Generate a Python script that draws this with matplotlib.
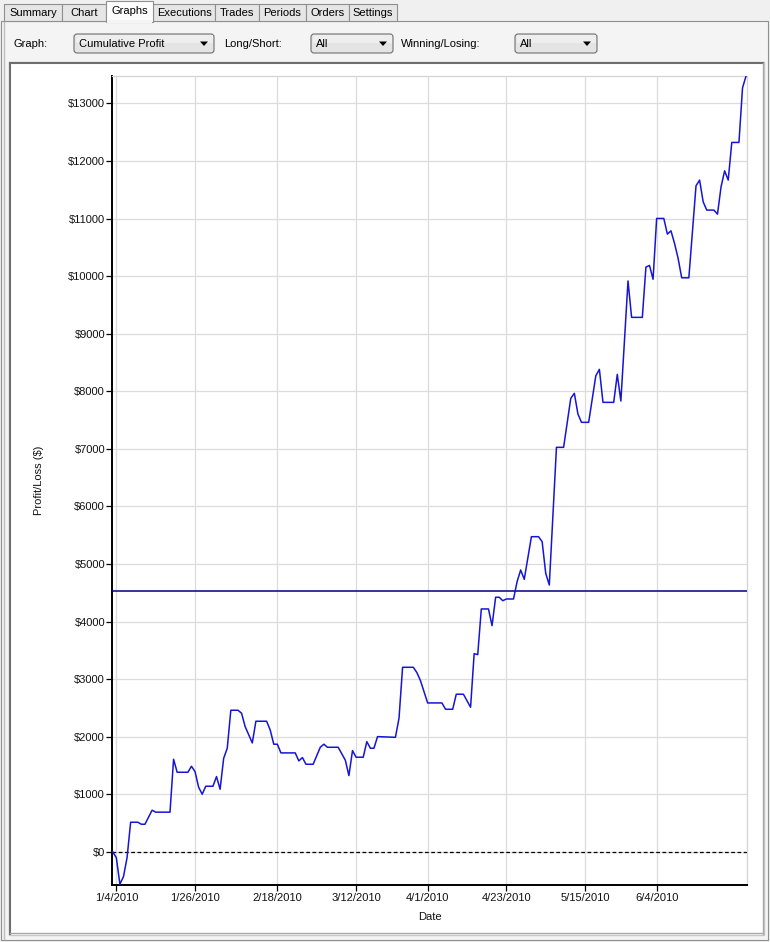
import matplotlib
matplotlib.use("Agg")
import matplotlib.pyplot as plt
from matplotlib.patches import Rectangle, FancyBboxPatch, Polygon
import pandas as pd

# ---------------- data ----------------
start_date = "2010-01-04"
day_offsets = [-1, 0, 1, 2, 3, 4, 6, 7, 8, 10, 11, 15, 16, 17, 20, 21, 22, 23, 24, 25,
               27, 28, 29, 30, 31, 32, 34, 35, 36, 38, 39, 42, 43, 44, 45, 46, 50, 51, 52, 53,
               55, 57, 58, 59, 62, 64, 65, 66, 67, 69, 70, 71, 72, 73, 78, 79, 80, 83, 84, 85,
               87, 91, 92, 94, 95, 97, 99, 100, 101, 102, 104, 105, 106, 107, 108, 109, 111, 112, 113, 114,
               116, 118, 119, 120, 121, 123, 125, 127, 128, 129, 130, 132, 134, 135, 136, 139, 140, 141, 143, 144,
               147, 148, 149, 150, 151, 153, 154, 155, 156, 157, 158, 160, 162, 163, 164, 165, 167, 168, 169, 170,
               171, 172, 174, 175, 176]
cum_profit = [0, -100, -560, -430, -100, 515, 515, 480, 480, 724, 690, 690, 1609, 1383, 1383, 1487, 1394, 1123, 1002, 1140,
              1140, 1308, 1088, 1626, 1800, 2460, 2460, 2408, 2176, 1892, 2269, 2269, 2118, 1870, 1870, 1719, 1719, 1580, 1638, 1522,
              1522, 1817, 1870, 1817, 1817, 1592, 1325, 1759, 1644, 1644, 1915, 1800, 1800, 2002, 1990, 2321, 3206, 3206, 3113, 2974,
              2587, 2587, 2477, 2477, 2738, 2738, 2512, 3443, 3426, 4219, 4219, 3929, 4422, 4422, 4363, 4392, 4392, 4693, 4896, 4734,
              5474, 5474, 5387, 4838, 4635, 7026, 7026, 7877, 7964, 7604, 7460, 7460, 8269, 8380, 7807, 7807, 8293, 7830, 9915, 9283,
              9283, 10156, 10185, 9945, 11001, 11001, 10729, 10786, 10567, 10307, 9970, 9970, 11568, 11667, 11290, 11146, 11146, 11076, 11550, 11828,
              11667, 12321, 12321, 13269, 13478]
average_profit = 4531
x_tick_labels = ["1/4/2010", "1/26/2010", "2/18/2010", "3/12/2010",
                 "4/1/2010", "4/23/2010", "5/15/2010", "6/4/2010"]
y_tick_values = list(range(0, 14000, 1000))

tab_names = ["Summary", "Chart", "Graphs", "Executions", "Trades", "Periods", "Orders", "Settings"]
selected_tab = "Graphs"
filter_labels = ["Graph:", "Long/Short:", "Winning/Losing:"]
filter_values = ["Cumulative Profit", "All", "All"]

# ---------------- figure ----------------
W, H = 770, 942
plt.rcParams["font.family"] = ["Liberation Sans", "DejaVu Sans"]
fig = plt.figure(figsize=(W / 100, H / 100), dpi=100)
fig.patch.set_facecolor("#F0F0F0")

ui = fig.add_axes([0, 0, 1, 1], zorder=0)
ui.set_xlim(0, W)
ui.set_ylim(H, 0)
ui.axis("off")

# tab panel
ui.add_patch(Rectangle((1, 21), 767, 919, facecolor="#F4F4F4", edgecolor="#8E8F8F", lw=0.8))

# tabs
tab_edges = [4, 62, 106, 153, 215, 259, 306, 349, 397]
for i, name in enumerate(tab_names):
    x0, x1 = tab_edges[i], tab_edges[i + 1]
    if name == selected_tab:
        ui.add_patch(Rectangle((x0, 1), x1 - x0, 21, facecolor="#FCFCFC", edgecolor="#8E8F8F", lw=0.8, zorder=3))
        ui.add_patch(Rectangle((x0 + 0.6, 20), x1 - x0 - 1.2, 3, facecolor="#F4F4F4", edgecolor="none", zorder=4))
        ui.text((x0 + x1) / 2, 11, name, ha="center", va="center", fontsize=8, color="#000000", zorder=5)
    else:
        ui.add_patch(Rectangle((x0, 4), x1 - x0, 17, facecolor="#E6E6E6", edgecolor="#8E8F8F", lw=0.8, zorder=2))
        ui.text((x0 + x1) / 2, 13, name, ha="center", va="center", fontsize=8, color="#000000", zorder=5)

# filter row
label_x = [14, 224, 401]
combo_x = [(74, 214), (311, 393), (515, 597)]
for lab, val, lx, (cx0, cx1) in zip(filter_labels, filter_values, label_x, combo_x):
    ui.text(lx, 44, lab, ha="left", va="center", fontsize=8, color="#000000")
    ui.add_patch(FancyBboxPatch((cx0, 34), cx1 - cx0, 19, boxstyle="round,pad=0,rounding_size=3",
                                facecolor="#E4E4E4", edgecolor="#707070", lw=0.8))
    ui.add_patch(Rectangle((cx0 + 1.5, 35), cx1 - cx0 - 3, 8, facecolor="#EEEEEE", edgecolor="none"))
    ui.text(cx0 + 5, 44, val, ha="left", va="center", fontsize=8, color="#000000")
    ui.add_patch(Polygon([(cx1 - 14, 41.5), (cx1 - 6, 41.5), (cx1 - 10, 46)], closed=True,
                         facecolor="#000000", edgecolor="none"))

# chart box (sunken border)
ui.add_patch(Rectangle((9, 62), 755, 873, facecolor="#FFFFFF", edgecolor="#C8C8C8", lw=1.0))
ui.plot([10, 10], [934, 63], color="#6E6E6E", lw=1.5)
ui.plot([10, 763], [63, 63], color="#6E6E6E", lw=1.5)
ui.plot([4, 4], [22, 939], color="#BDBDBD", lw=1.0)
ui.plot([763, 763], [63, 934], color="#A8A8A8", lw=1.0)
ui.plot([10, 763], [933, 933], color="#A8A8A8", lw=1.0)

# ---------------- chart ----------------
dates = pd.Timestamp(start_date) + pd.to_timedelta(day_offsets, unit="D")
tick_dates = pd.to_datetime(x_tick_labels, format="%m/%d/%Y")

ax_left, ax_right, ax_top, ax_bottom = 112, 747, 75.7, 885
ax = fig.add_axes([ax_left / W, 1 - ax_bottom / H, (ax_right - ax_left) / W, (ax_bottom - ax_top) / H], zorder=2)
ax.set_facecolor("#FFFFFF")

ax.plot(dates, cum_profit, color="#1515D5", lw=1.1, zorder=4)
ax.axhline(average_profit, color="#000080", lw=1.1, zorder=3)
ax.axhline(0, color="#000000", lw=0.9, ls=(0, (3, 2)), zorder=3)

ax.set_xlim(dates[0] - pd.Timedelta(hours=5), dates[-1] + pd.Timedelta(hours=6))
ax.set_ylim(-575, 13480)

ax.set_xticks(tick_dates)
ax.set_xticklabels(x_tick_labels)
ax.set_yticks(y_tick_values)
ax.set_yticklabels([f"${v}" for v in y_tick_values])
ax.tick_params(axis="both", labelsize=8, length=4, width=0.9, color="#000000", labelcolor="#111111")
ax.tick_params(axis="y", pad=1)
ax.tick_params(axis="x", pad=2)

ax.grid(True, color="#DCDCDC", lw=0.9, zorder=0)
ax.set_axisbelow(True)

for side in ("left", "bottom"):
    ax.spines[side].set_color("#000000")
    ax.spines[side].set_linewidth(1.4)
for side in ("top", "right"):
    ax.spines[side].set_color("#D4D4D4")
    ax.spines[side].set_linewidth(0.9)

ax.set_ylabel("Profit/Loss ($)", fontsize=8, color="#111111")
ax.yaxis.set_label_coords(-0.107, 0.5)
ax.set_xlabel("Date", fontsize=8, color="#111111")
ax.xaxis.set_label_coords(0.5, -0.033)

fig.savefig("out.png", dpi=100, facecolor=fig.get_facecolor())
